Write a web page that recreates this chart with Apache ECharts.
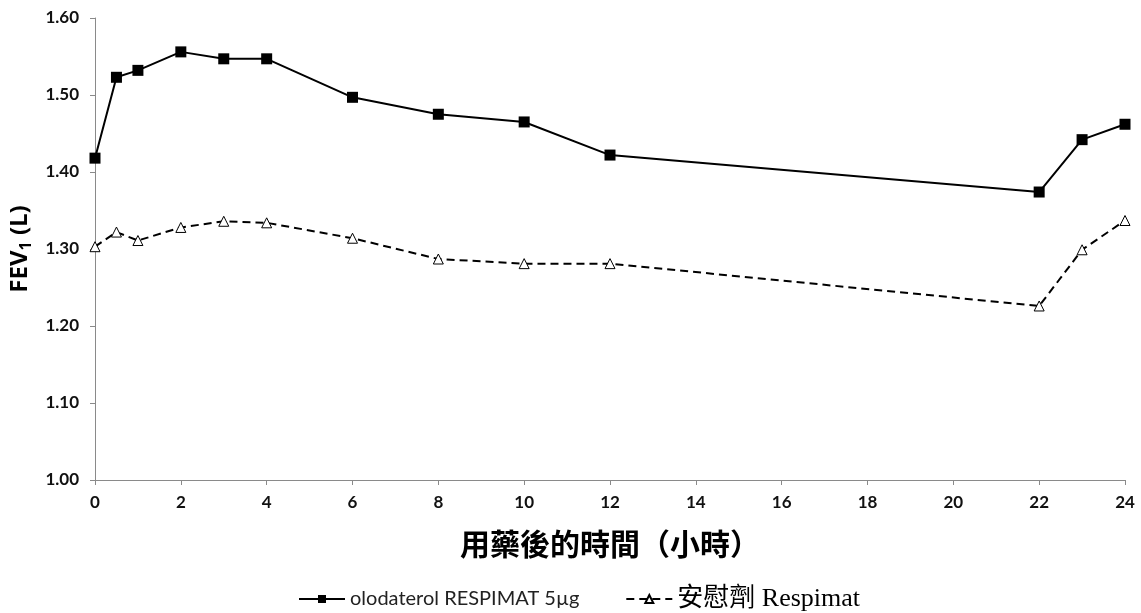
<!DOCTYPE html>
<html>
<head>
<meta charset="utf-8">
<script src="https://cdn.jsdelivr.net/npm/echarts@6/dist/echarts.min.js"></script>
<style>html,body{margin:0;padding:0;background:#fff;}#c{width:1141px;height:613px;}</style>
</head>
<body>
<div id="c"></div>
<script>
const hours = [0, 0.5, 1, 2, 3, 4, 6, 8, 10, 12, 22, 23, 24];
const olodaterol = [1.418, 1.523, 1.532, 1.556, 1.547, 1.547, 1.497, 1.475, 1.465, 1.422, 1.374, 1.442, 1.462];
const placebo = [1.303, 1.322, 1.311, 1.328, 1.336, 1.334, 1.314, 1.287, 1.281, 1.281, 1.226, 1.299, 1.337];
const seriesNames = ['olodaterol RESPIMAT 5µg', '安慰劑 Respimat'];
const xTitle = '用藥後的時間（小時）';

const pair = (vals) => hours.map((h, i) => [h, vals[i]]);
const chart = echarts.init(document.getElementById('c'));
chart.setOption({
  animation: false,
  backgroundColor: '#fff',
  grid: { left: 95, right: 16, top: 18, bottom: 133 },
  xAxis: {
    type: 'value', min: 0, max: 24, interval: 2,
    axisLine: { lineStyle: { color: '#8a8a8a', width: 1 } },
    axisTick: { show: true, length: 5, lineStyle: { color: '#8a8a8a' } },
    splitLine: { show: false },
    axisLabel: { color: '#111', fontFamily: 'Lato', fontWeight: 'bold', fontSize: 17, margin: 14 },
    name: xTitle, nameLocation: 'middle', nameGap: 49,
    nameTextStyle: { color: '#000', fontFamily: 'Noto Sans CJK TC', fontWeight: 'bold', fontSize: 30 }
  },
  yAxis: {
    type: 'value', min: 1.0, max: 1.6, interval: 0.1,
    axisLine: { show: true, lineStyle: { color: '#8a8a8a', width: 1 } },
    axisTick: { show: true, length: 5, lineStyle: { color: '#8a8a8a' } },
    splitLine: { show: false },
    axisLabel: { color: '#111', fontFamily: 'Lato', fontWeight: 'bold', fontSize: 17, margin: 16,
      formatter: v => v.toFixed(2) },
    name: '{a|FEV}{s|1}{a| (L)}', nameLocation: 'middle', nameGap: 61,
    nameTextStyle: {
      rich: {
        a: { fontFamily: 'Open Sans', fontWeight: 'bold', fontSize: 24, color: '#000' },
        s: { fontFamily: 'Open Sans', fontWeight: 'bold', fontSize: 16, color: '#000', verticalAlign: 'bottom', padding: [12, 0, 0, 0] }
      }
    }
  },
  legend: {
    left: 293, top: 581, itemWidth: 46, itemHeight: 10, itemGap: 46,
    data: [
      { name: seriesNames[0], textStyle: { fontFamily: 'Lato', fontSize: 20, color: '#222' } },
      { name: seriesNames[1], textStyle: { fontFamily: 'Liberation Serif, Noto Sans CJK TC', fontSize: 26, color: '#000' } }
    ]
  },
  series: [
    {
      name: seriesNames[0], type: 'line', data: pair(olodaterol),
      symbol: 'rect', symbolSize: 11,
      itemStyle: { color: '#000' },
      lineStyle: { color: '#000', width: 2 }
    },
    {
      name: seriesNames[1], type: 'line', data: pair(placebo),
      symbol: 'triangle', symbolSize: 10,
      itemStyle: { color: '#fff', borderColor: '#000', borderWidth: 1 },
      lineStyle: { color: '#000', width: 2, type: [8, 5] }
    }
  ]
});
</script>
</body>
</html>
